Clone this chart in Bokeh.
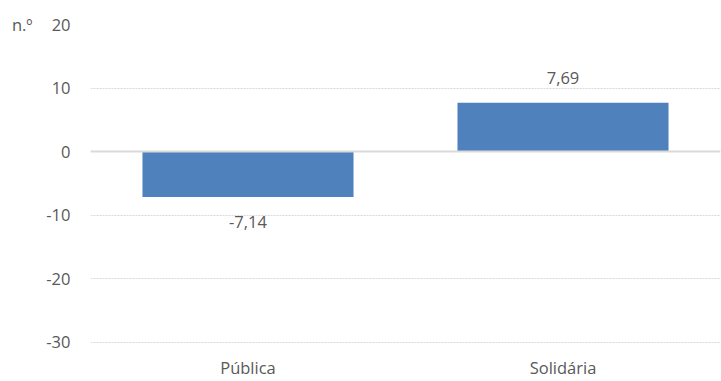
from bokeh.plotting import figure
from bokeh.models import (FactorRange, Range1d, FixedTicker, ColumnDataSource,
                          PrintfTickFormatter, LinearAxis)
from bokeh.embed import file_html
from bokeh.resources import INLINE
from bokeh.core.properties import value

categories = ["Pública", "Solidária"]
values = [-7.14, 7.69]
y_ticks = [-30, -20, -10, 0, 10, 20]
unit_label = "n.º"

FONT = "Open Sans"
TXT = "#595959"
FS = "16.5px"

p = figure(x_range=FactorRange(*categories, range_padding=0), y_range=Range1d(-32.1, 20),
           width=721, height=381, output_backend="svg", toolbar_location=None,
           min_border_left=90, min_border_right=1, min_border_top=24, min_border_bottom=0)
p.outline_line_color = None
p.background_fill_color = "white"

src = ColumnDataSource(dict(
    cat=categories, val=values,
    lab=[f"{v:.2f}".replace(".", ",") for v in values],
    ly=[v + (3.9 if v >= 0 else -3.9) for v in values],
))

p.vbar(x="cat", top="val", bottom=0, width=0.67, source=src,
       fill_color="#4f81bd", line_color=None)

p.text(x="cat", y="ly", text="lab", source=src, text_align="center", text_baseline="middle",
       text_font=value(FONT), text_font_size=FS, text_color=TXT)

# zero line
p.hspan(y=[0], line_color="#d9d9d9", line_width=2)

p.ygrid.ticker = FixedTicker(ticks=y_ticks)
p.ygrid.grid_line_color = "#d9d9d9"
p.ygrid.grid_line_dash = "2 1"
p.xgrid.grid_line_color = None

def style_y(ax, standoff):
    ax.axis_line_color = None
    ax.major_tick_line_color = None
    ax.minor_tick_line_color = None
    ax.major_tick_out = 0
    ax.minor_tick_out = 0
    ax.major_label_text_font = FONT
    ax.major_label_text_font_size = FS
    ax.major_label_text_color = TXT
    ax.major_label_standoff = standoff

p.yaxis.ticker = FixedTicker(ticks=y_ticks)
p.yaxis.formatter = PrintfTickFormatter(format="%d")
style_y(p.yaxis[0], 20)

# unit label, drawn as an outer left axis with one tick at the top value
unit_axis = LinearAxis(ticker=FixedTicker(ticks=[y_ticks[-1]]),
                       major_label_overrides={y_ticks[-1]: unit_label})
style_y(unit_axis, 11)
p.add_layout(unit_axis, "left")

p.xaxis.axis_line_color = None
p.xaxis.major_tick_line_color = None
p.xaxis.major_tick_out = 0
p.xaxis.minor_tick_out = 0
p.xaxis.major_label_text_font = FONT
p.xaxis.major_label_text_font_size = FS
p.xaxis.major_label_text_color = TXT
p.xaxis.major_label_standoff = 0

open("out.html", "w").write(file_html(p, INLINE))
